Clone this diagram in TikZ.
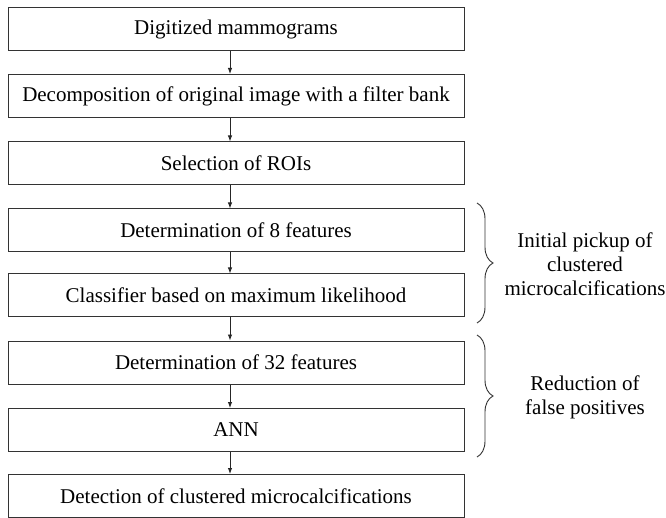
\documentclass[tikz,border=0pt]{standalone}
\usepackage{fontspec}
\setmainfont{Liberation Serif}
\usetikzlibrary{arrows.meta,decorations.pathreplacing}
\begin{document}
\begin{tikzpicture}[x=1pt,y=-1pt,
  stagebox/.style={draw=black!80, line width=1pt, minimum width=456pt, minimum height=43pt, inner sep=0pt, font=\fontsize{21}{24}\selectfont},
  arr/.style={draw=black!85, line width=0.9pt, -{Latex[length=6pt,width=4.5pt]}},
  bracestyle/.style={draw=black!80, line width=0.9pt, decorate, decoration={brace, amplitude=16pt}},
  sidetext/.style={align=center, font=\fontsize{21}{24}\selectfont, inner sep=0pt}]
\useasboundingbox (0,0) rectangle (666,518);
\node[stagebox] (b1) at (236,29) {Digitized mammograms};
\node[stagebox] (b2) at (236,96) {Decomposition of original image with a filter bank};
\node[stagebox] (b3) at (236,163.5) {Selection of ROIs};
\node[stagebox] (b4) at (236,230.5) {Determination of 8 features};
\node[stagebox] (b5) at (236,295.5) {Classifier based on maximum likelihood};
\node[stagebox] (b6) at (236,362.5) {Determination of 32 features};
\node[stagebox] (b7) at (236,430) {ANN};
\node[stagebox] (b8) at (236,496) {Detection of clustered microcalcifications};
\coordinate (ax) at (230,0);
\draw[arr] (b1.south -| ax) -- (b2.north -| ax);
\draw[arr] (b2.south -| ax) -- (b3.north -| ax);
\draw[arr] (b3.south -| ax) -- (b4.north -| ax);
\draw[arr] (b4.south -| ax) -- (b5.north -| ax);
\draw[arr] (b5.south -| ax) -- (b6.north -| ax);
\draw[arr] (b6.south -| ax) -- (b7.north -| ax);
\draw[arr] (b7.south -| ax) -- (b8.north -| ax);
\coordinate (br1t) at (477,203);
\coordinate (br1b) at (477,323);
\coordinate (br2t) at (477,335);
\coordinate (br2b) at (477,457);
\draw[bracestyle] (br1t) -- (br1b);
\draw[bracestyle] (br2t) -- (br2b);
\node[sidetext] (t1) at (585,264) {Initial pickup of\\clustered\\microcalcifications};
\node[sidetext] (t2) at (585,397) {Reduction of\\false positives};
\end{tikzpicture}
\end{document}
